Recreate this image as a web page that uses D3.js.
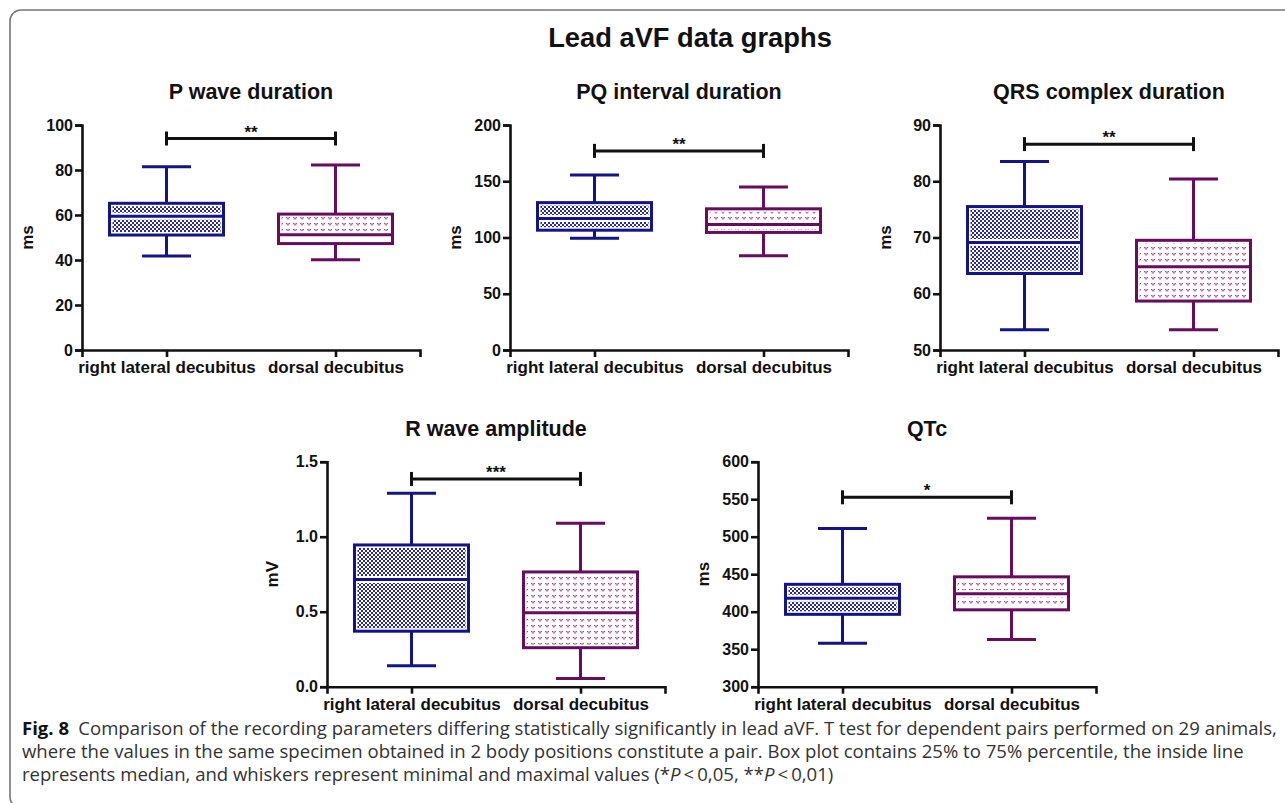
<!DOCTYPE html>
<html>
<head>
<meta charset="utf-8">
<script src="https://cdn.jsdelivr.net/npm/d3@7/dist/d3.min.js"></script>
<style>
  html, body { margin: 0; padding: 0; background: #fff; }
  svg { display: block; }
</style>
</head>
<body>
<svg id="fig" width="1285" height="803"></svg>
<script>
// ---- Data ---------------------------------------------------------------
const categories = ["right lateral decubitus", "dorsal decubitus"];

const panelTitles = ["P wave duration", "PQ interval duration", "QRS complex duration", "R wave amplitude", "QTc"];
const axisLabels = ["ms", "ms", "ms", "mV", "ms"];
const yDomains = [[0, 100], [0, 200], [50, 90], [0, 1.5], [300, 600]];
const yTicks = [
  [0, 20, 40, 60, 80, 100],
  [0, 50, 100, 150, 200],
  [50, 60, 70, 80, 90],
  [0, 0.5, 1.0, 1.5],
  [300, 350, 400, 450, 500, 550, 600]
];
const tickFormats = ["d", "d", "d", ".1f", "d"];

// [min, q1, median, q3, max] for each panel
const rightLateral = [
  [41.8, 51.1, 59.4, 65.2, 81.5],
  [99.3, 106.5, 117, 131, 155.6],
  [53.6, 63.6, 69.1, 75.5, 83.5],
  [0.14, 0.37, 0.715, 0.945, 1.29],
  [358, 396.5, 418, 436.5, 511]
];
const dorsal = [
  [40.1, 47.3, 51.2, 60.4, 82.2],
  [83.8, 104.5, 111.5, 125.5, 144.8],
  [53.6, 58.7, 64.8, 69.5, 80.4],
  [0.055, 0.26, 0.493, 0.765, 1.09],
  [363, 402.5, 424, 446.5, 524.5]
];

const sigMarks = ["**", "**", "**", "***", "*"];
const sigLevels = [94, 177, 86.6, 1.385, 552.5];

const captionLines = [
  "Comparison of the recording parameters differing statistically significantly in lead aVF. T test for dependent pairs performed on 29 animals,",
  "where the values in the same specimen obtained in 2 body positions constitute a pair. Box plot contains 25% to 75% percentile, the inside line",
  "represents median, and whiskers represent minimal and maximal values ("
];

// ---- Layout -------------------------------------------------------------
const plotW = 338;
const layout = [
  { x: 82,  top: 125,   bottom: 350 },
  { x: 510, top: 125,   bottom: 350 },
  { x: 940, top: 125,   bottom: 350 },
  { x: 327, top: 461.7, bottom: 686.7 },
  { x: 758, top: 461.7, bottom: 686.7 }
];
const boxW = 114, capW = 49;
const colors = ["#13138a", "#680c5f"];
const FONT = "'Liberation Sans', Arial, Helvetica, sans-serif";

const svg = d3.select("#fig");

// Fill patterns for the two groups
const defs = svg.append("defs");
const checker = defs.append("pattern")
  .attr("id", "fill-0").attr("patternUnits", "userSpaceOnUse")
  .attr("width", 4).attr("height", 4);
checker.append("rect").attr("width", 4).attr("height", 4).attr("fill", "#fff");
checker.append("rect").attr("width", 2).attr("height", 2).attr("fill", "#2a2aa2");
checker.append("rect").attr("x", 2).attr("y", 2).attr("width", 2).attr("height", 2).attr("fill", "#2a2aa2");

const hearts = defs.append("pattern")
  .attr("id", "fill-1").attr("patternUnits", "userSpaceOnUse")
  .attr("width", 7).attr("height", 6);
hearts.append("rect").attr("width", 7).attr("height", 6).attr("fill", "#fff");
hearts.append("path")
  .attr("d", "M1,1h1.5v1.2h-1.5z M3.5,1h1.5v1.2h-1.5z M2.2,2.2h1.6v1.4h-1.6z")
  .attr("fill", "#a24f98");

// Outer frame
svg.append("rect")
  .attr("x", 10).attr("y", 10).attr("width", 1300).attr("height", 798)
  .attr("rx", 11).attr("ry", 11)
  .attr("fill", "none").attr("stroke", "#777").attr("stroke-width", 1.6);

// Figure heading
svg.append("text")
  .attr("x", 690).attr("y", 47)
  .attr("text-anchor", "middle")
  .attr("font-family", FONT).attr("font-weight", "bold").attr("font-size", 27.3)
  .attr("fill", "#111")
  .text("Lead aVF data graphs");

// ---- Panels -------------------------------------------------------------
panelTitles.forEach((title, i) => {
  const L = layout[i];
  const g = svg.append("g").attr("transform", `translate(${L.x},0)`);

  const y = d3.scaleLinear().domain(yDomains[i]).range([L.bottom, L.top]);
  const x = d3.scalePoint().domain(categories).range([0, plotW]).padding(0.5);

  // Title
  g.append("text")
    .attr("x", plotW / 2).attr("y", L.top - 26)
    .attr("text-anchor", "middle")
    .attr("font-family", FONT).attr("font-weight", "bold").attr("font-size", 21.5)
    .attr("fill", "#111")
    .text(title);

  // Y axis
  const yAxis = g.append("g")
    .call(d3.axisLeft(y).tickValues(yTicks[i]).tickFormat(d3.format(tickFormats[i]))
      .tickSizeOuter(0).tickSize(7).tickPadding(2));
  yAxis.selectAll("path, line").attr("stroke", "#111").attr("stroke-width", 2.6);
  yAxis.selectAll("text")
    .attr("font-family", FONT).attr("font-weight", "bold").attr("font-size", 16).attr("fill", "#111");

  // X axis
  const xAxis = g.append("g").attr("transform", `translate(0,${L.bottom})`)
    .call(d3.axisBottom(x).tickSizeOuter(0).tickSize(7).tickPadding(4));
  xAxis.selectAll("path, line").attr("stroke", "#111").attr("stroke-width", 2.6);
  xAxis.selectAll("text")
    .attr("font-family", FONT).attr("font-weight", "bold").attr("font-size", 17).attr("fill", "#111");

  // Axis title
  g.append("text")
    .attr("transform", `translate(-49,${(L.top + L.bottom) / 2}) rotate(-90)`)
    .attr("text-anchor", "middle")
    .attr("font-family", FONT).attr("font-weight", "bold").attr("font-size", 17)
    .attr("fill", "#111")
    .text(axisLabels[i]);

  // Boxes
  [rightLateral[i], dorsal[i]].forEach((s, k) => {
    const [mn, q1, md, q3, mx] = s;
    const cx = x(categories[k]);
    const c = colors[k];
    const bg = g.append("g");

    // whiskers
    bg.append("line").attr("x1", cx).attr("x2", cx).attr("y1", y(mn)).attr("y2", y(q1))
      .attr("stroke", c).attr("stroke-width", 3);
    bg.append("line").attr("x1", cx).attr("x2", cx).attr("y1", y(q3)).attr("y2", y(mx))
      .attr("stroke", c).attr("stroke-width", 3);
    [mn, mx].forEach(v => {
      bg.append("line").attr("x1", cx - capW / 2).attr("x2", cx + capW / 2)
        .attr("y1", y(v)).attr("y2", y(v))
        .attr("stroke", c).attr("stroke-width", 3);
    });

    // box body
    const top = y(q3), bot = y(q1);
    bg.append("rect").attr("x", cx - boxW / 2).attr("y", top)
      .attr("width", boxW).attr("height", bot - top).attr("fill", "#fff");
    bg.append("rect").attr("x", cx - boxW / 2 + 3).attr("y", top + 3)
      .attr("width", boxW - 6).attr("height", Math.max(0, bot - top - 6))
      .attr("fill", `url(#fill-${k})`);
    // median with a thin white halo
    bg.append("line").attr("x1", cx - boxW / 2).attr("x2", cx + boxW / 2)
      .attr("y1", y(md)).attr("y2", y(md)).attr("stroke", "#fff").attr("stroke-width", 7);
    bg.append("line").attr("x1", cx - boxW / 2).attr("x2", cx + boxW / 2)
      .attr("y1", y(md)).attr("y2", y(md)).attr("stroke", c).attr("stroke-width", 3);
    bg.append("rect").attr("x", cx - boxW / 2).attr("y", top)
      .attr("width", boxW).attr("height", bot - top)
      .attr("fill", "none").attr("stroke", c).attr("stroke-width", 3);
  });

  // Significance bracket
  const by = y(sigLevels[i]);
  const x0 = x(categories[0]), x1 = x(categories[1]);
  const br = g.append("g").attr("stroke", "#111").attr("stroke-width", 3);
  br.append("line").attr("x1", x0).attr("x2", x1).attr("y1", by).attr("y2", by);
  br.append("line").attr("x1", x0).attr("x2", x0).attr("y1", by - 7).attr("y2", by + 7);
  br.append("line").attr("x1", x1).attr("x2", x1).attr("y1", by - 7).attr("y2", by + 7);
  g.append("text")
    .attr("x", (x0 + x1) / 2).attr("y", by - 1)
    .attr("text-anchor", "middle")
    .attr("font-family", FONT).attr("font-weight", "bold").attr("font-size", 17)
    .attr("fill", "#111")
    .text(sigMarks[i]);
});

// ---- Caption ------------------------------------------------------------
const CAP_FONT = "'Open Sans', 'Noto Sans', sans-serif";
const cap = svg.append("g").attr("fill", "#333").attr("font-family", CAP_FONT);
const baselines = [735, 758, 781];

const l1 = cap.append("text").attr("x", 22).attr("y", baselines[0]);
l1.append("tspan").attr("font-weight", "bold").attr("fill", "#111").text("Fig. 8");
l1.append("tspan").text("\u2002" + captionLines[0]);
cap.append("text").attr("x", 22).attr("y", baselines[1]).text(captionLines[1]);
const l3 = cap.append("text").attr("x", 22).attr("y", baselines[2]);
l3.append("tspan").text(captionLines[2] + "*");
l3.append("tspan").attr("font-style", "italic").text("P");
l3.append("tspan").text("\u2009<\u20090,05, **");
l3.append("tspan").attr("font-style", "italic").text("P");
l3.append("tspan").text("\u2009<\u20090,01)");

// Size the caption so the first line spans the text block
let fs = 16;
cap.attr("font-size", fs);
const target = 1256;
const w1 = l1.node().getComputedTextLength();
fs = fs * target / w1;
cap.attr("font-size", fs.toFixed(2));
</script>
</body>
</html>
